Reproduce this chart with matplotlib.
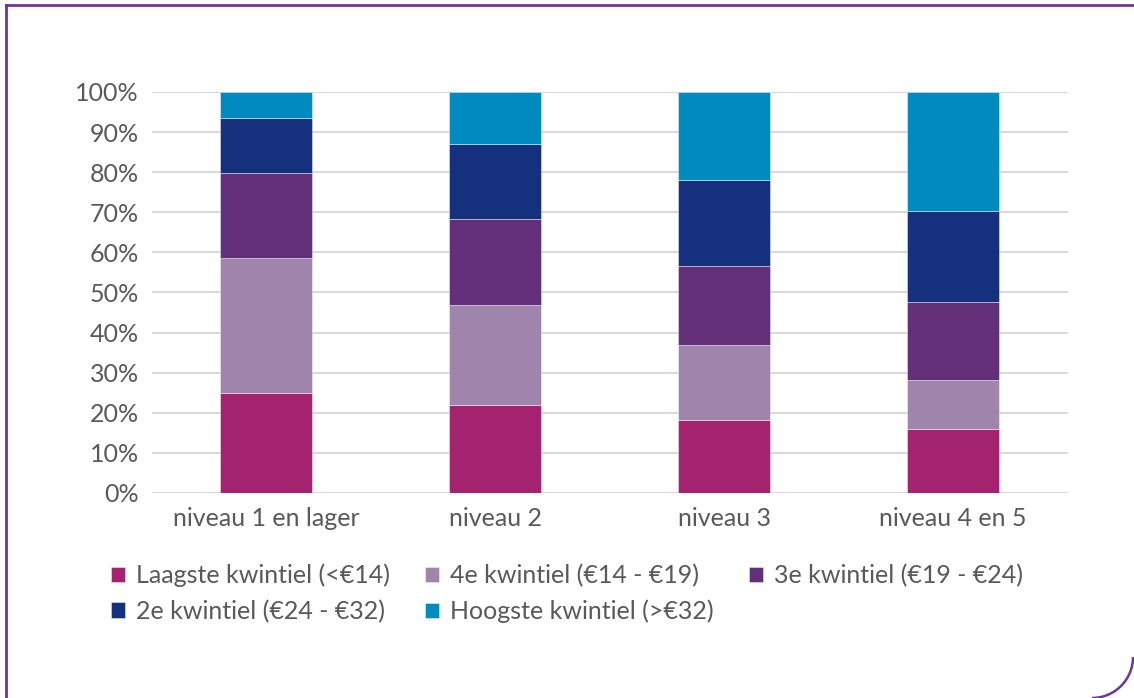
import matplotlib.pyplot as plt
from matplotlib.patches import Arc
from matplotlib.lines import Line2D
import numpy as np

plt.rcParams['font.family'] = ['Lato', 'DejaVu Sans']

categories = ["niveau 1 en lager", "niveau 2", "niveau 3", "niveau 4 en 5"]
laagste = [24.9, 21.9, 18.3, 15.9]
vierde = [33.7, 25.0, 18.6, 12.3]
derde = [21.2, 21.4, 19.7, 19.4]
tweede = [13.8, 18.8, 21.4, 22.6]
hoogste = [6.4, 12.9, 22.0, 29.8]

labels = ["Laagste kwintiel (<€14)", "4e kwintiel (€14 - €19)", "3e kwintiel (€19 - €24)",
          "2e kwintiel (€24 - €32)", "Hoogste kwintiel (>€32)"]
colors = ["#A3236F", "#9F85AC", "#642F79", "#15317D", "#008BC0"]

fig = plt.figure(figsize=(11.34, 6.98), dpi=100)
ax = fig.add_axes([0.1336, 0.2937, 0.8078, 0.5745])

x = np.arange(len(categories))
bottom = np.zeros(len(categories))
handles = []
for vals, lab, col in zip([laagste, vierde, derde, tweede, hoogste], labels, colors):
    b = ax.bar(x, vals, width=0.4, bottom=bottom, color=col, label=lab,
               edgecolor=(1, 1, 1, 0.5), linewidth=0.6, zorder=3)
    handles.append(b)
    bottom += np.array(vals)

ax.set_xlim(-0.5, 3.5)
ax.set_ylim(0, 100)
ax.set_yticks(range(0, 101, 10))
ax.set_yticklabels([f"{v}%" for v in range(0, 101, 10)])
ax.set_xticks(x)
ax.set_xticklabels(categories)
ax.grid(axis='y', color='#D9D9D9', linewidth=1.5, zorder=0)
ax.tick_params(length=0, labelsize=18, colors='#595959', pad=9)
ax.tick_params(axis='x', pad=10)
for s in ax.spines.values():
    s.set_visible(False)

# legend laid out row-wise: 3 entries on first row, 2 on second
order = [0, 3, 1, 4, 2]
fig.legend([handles[i] for i in order], [labels[i] for i in order],
           loc='center', bbox_to_anchor=(0.5, 0.15), ncol=3, frameon=False,
           fontsize=18, labelcolor='#595959', handlelength=0.55, handleheight=0.55,
           handletextpad=0.45, columnspacing=1.4, labelspacing=0.5)

# purple frame with rounded lower-right corner
purple = '#6E3595'
fig.add_artist(Line2D([6 / 1134, 1], [1 - 5 / 698, 1 - 5 / 698], color=purple, lw=2,
                      transform=fig.transFigure))
fig.add_artist(Line2D([6 / 1134, 6 / 1134], [0, 1 - 5 / 698], color=purple, lw=2,
                      transform=fig.transFigure))
fig.add_artist(Arc((1092, 698 - 657), 82, 82, theta1=270, theta2=360, color=purple, lw=1.8,
                   transform=None))

fig.savefig('out.png', dpi=100)
